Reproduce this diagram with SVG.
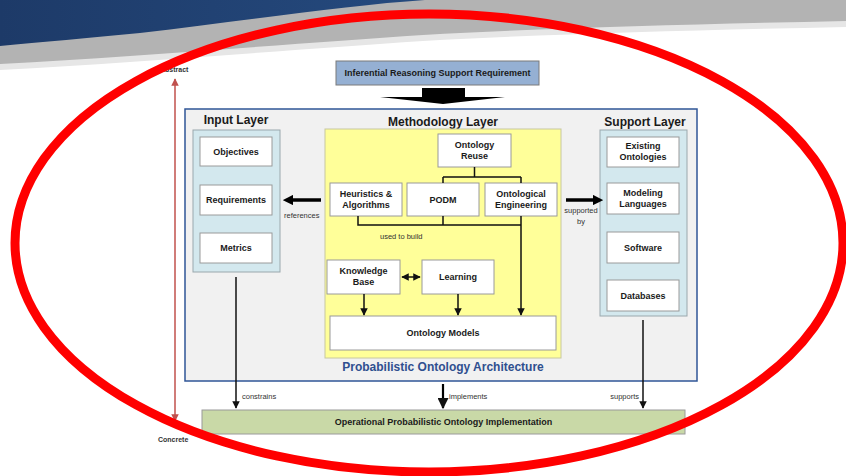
<svg xmlns="http://www.w3.org/2000/svg" width="846" height="476" viewBox="0 0 846 476">
<style>
.box{fill:#ffffff;stroke:#9a9a9a;stroke-width:1}
.lbl{font-family:"Liberation Sans",Arial,sans-serif;font-size:9px;font-weight:bold;fill:#1a1a1a;text-anchor:middle}
.ttl{font-family:"Liberation Sans",Arial,sans-serif;font-size:12px;font-weight:bold;fill:#1a1a1a;text-anchor:middle}
.sm{font-family:"Liberation Sans",Arial,sans-serif;font-size:7.5px;fill:#333;}
.ln{fill:none;stroke:#111;stroke-width:1.5}
</style>
<defs>
<marker id="ah" viewBox="0 0 10 10" refX="9" refY="5" markerWidth="5" markerHeight="5" orient="auto-start-reverse"><path d="M0,0 L10,5 L0,10 z" fill="#111"/></marker>
<marker id="ahr" viewBox="0 0 10 10" refX="9" refY="5" markerWidth="5" markerHeight="5" orient="auto-start-reverse"><path d="M0,0 L10,5 L0,10 z" fill="#c0504d"/></marker>
<marker id="big" viewBox="0 0 10 10" refX="5" refY="5" markerWidth="3" markerHeight="3" orient="auto"><path d="M0,0 L10,5 L0,10 z" fill="#000"/></marker>
<linearGradient id="bl" x1="0" y1="0" x2="1" y2="0"><stop offset="0" stop-color="#1d3a68"/><stop offset="1" stop-color="#254a7e"/></linearGradient>
</defs>
<rect width="846" height="476" fill="#ffffff"/>
<!-- header swoosh -->
<g id="header">
<path d="M0,0 H846 V27 C700,30 550,34 423,41 C300,49 150,62 0,70 Z" fill="#e6e6e6"/>
<path d="M0,0 H846 V21 C700,24 550,28 423,35 C300,43 150,56 0,64 Z" fill="#b3b3b3"/>
<path d="M0,0 H425 C350,5 250,20 140,33 C90,38 40,42 0,46 Z" fill="url(#bl)"/>
</g>
<!-- abstract/concrete axis -->
<g id="axis">
<line x1="175" y1="79" x2="175" y2="421" stroke="#c0504d" stroke-width="1.5" marker-start="url(#ahr)" marker-end="url(#ahr)"/>
<text x="160" y="72" class="sm" style="font-weight:bold;font-size:7px">Abstract</text>
<text x="158" y="442" class="sm" style="font-weight:bold;font-size:7px">Concrete</text>
</g>
<g id="requirement">
<rect x="336" y="61" width="203" height="24" fill="#95b0d3" stroke="#7a7a7a"/>
<text x="437.5" y="76" class="lbl">Inferential Reasoning Support Requirement</text>
</g>
<g id="bigarrow">
<path d="M422,88 L465,88 L465,97 L505,97 L443,104 L380,97 L422,97 Z" fill="#000"/>
</g>
<g id="architecture">
<rect x="185" y="109" width="512" height="272" fill="#f1f1f1" stroke="#2f5597" stroke-width="1.5"/>
<text x="443" y="371" class="ttl" style="fill:#2f4f8f">Probabilistic Ontology Architecture</text>
</g>
<g id="input-layer">
<text x="236" y="124" class="ttl">Input Layer</text>
<rect x="193" y="130" width="87" height="142" fill="#d3e8ee" stroke="#9aa8ad"/>
</g>
<g id="objectives"><rect x="200" y="137" width="72" height="29" class="box"/><text x="236" y="155" class="lbl">Objectives</text></g>
<g id="requirements"><rect x="200" y="185" width="72" height="30" class="box"/><text x="236" y="203" class="lbl">Requirements</text></g>
<g id="metrics"><rect x="200" y="233" width="72" height="30" class="box"/><text x="236" y="251" class="lbl">Metrics</text></g>
<g id="methodology-layer">
<text x="443" y="126" class="ttl">Methodology Layer</text>
<rect x="325" y="129" width="236" height="229" fill="#ffff99" stroke="#c8c8a0"/>
</g>
<g id="ontology-reuse"><rect x="438" y="134" width="73" height="33" class="box"/><text x="474.5" y="148" class="lbl">Ontology</text><text x="474.5" y="159" class="lbl">Reuse</text></g>
<g id="heuristics"><rect x="330" y="183" width="72" height="33" class="box"/><text x="366" y="197" class="lbl">Heuristics &amp;</text><text x="366" y="208" class="lbl">Algorithms</text></g>
<g id="podm"><rect x="407" y="183" width="72" height="33" class="box"/><text x="443" y="203" class="lbl">PODM</text></g>
<g id="ontological-engineering"><rect x="485" y="183" width="72" height="33" class="box"/><text x="521" y="197" class="lbl">Ontological</text><text x="521" y="208" class="lbl">Engineering</text></g>
<g id="knowledge-base"><rect x="327" y="260" width="73" height="34" class="box"/><text x="363.5" y="274" class="lbl">Knowledge</text><text x="363.5" y="285" class="lbl">Base</text></g>
<g id="learning"><rect x="422" y="260" width="72" height="34" class="box"/><text x="458" y="280" class="lbl">Learning</text></g>
<g id="ontology-models"><rect x="330" y="316" width="226" height="34" class="box"/><text x="443" y="336" class="lbl">Ontology Models</text></g>
<g id="support-layer">
<text x="645" y="126" class="ttl">Support Layer</text>
<rect x="600" y="130" width="87" height="186" fill="#d3e8ee" stroke="#9aa8ad"/>
</g>
<g id="existing-ontologies"><rect x="607" y="137" width="72" height="30" class="box"/><text x="643" y="149" class="lbl">Existing</text><text x="643" y="160" class="lbl">Ontologies</text></g>
<g id="modeling-languages"><rect x="607" y="183" width="72" height="31" class="box"/><text x="643" y="196" class="lbl">Modeling</text><text x="643" y="207" class="lbl">Languages</text></g>
<g id="software"><rect x="607" y="232" width="72" height="31" class="box"/><text x="643" y="251" class="lbl">Software</text></g>
<g id="databases"><rect x="607" y="280" width="72" height="31" class="box"/><text x="643" y="299" class="lbl">Databases</text></g>
<g id="operational">
<rect x="202" y="410" width="483" height="24" fill="#c9d9a7" stroke="#9a9a9a"/>
<text x="443.5" y="425" class="lbl">Operational Probabilistic Ontology Implementation</text>
</g>
<g id="connectors">
<path d="M474.5,167 V177 M443,177 H521 M443,177 V183 M521,177 V183" class="ln" stroke-width="1.3"/>
<path d="M358,216 V225 H521 M443,216 V225" class="ln" stroke-width="1.3"/>
<line x1="521" y1="216" x2="521" y2="315" class="ln" stroke-width="1.3" marker-end="url(#ah)"/>
<line x1="364" y1="294" x2="364" y2="315" class="ln" stroke-width="1.3" marker-end="url(#ah)"/>
<line x1="458" y1="294" x2="458" y2="315" class="ln" stroke-width="1.3" marker-end="url(#ah)"/>
<line x1="402" y1="277" x2="420" y2="277" class="ln" stroke-width="1.3" marker-start="url(#ah)" marker-end="url(#ah)"/>
<text x="380" y="239" class="sm">used to build</text>
<line x1="321" y1="200" x2="288" y2="200" stroke="#000" stroke-width="3.5" marker-end="url(#big)"/>
<text x="284" y="218" class="sm">references</text>
<line x1="566" y1="200" x2="598" y2="200" stroke="#000" stroke-width="3.5" marker-end="url(#big)"/>
<text x="581" y="213" class="sm" text-anchor="middle">supported</text>
<text x="581" y="224" class="sm" text-anchor="middle">by</text>
<line x1="236" y1="277" x2="236" y2="408" class="ln" marker-end="url(#ah)"/>
<text x="242" y="399" class="sm">constrains</text>
<line x1="443" y1="384" x2="443" y2="408" stroke="#000" stroke-width="2.2" marker-end="url(#ah)"/>
<text x="449" y="399" class="sm">implements</text>
<line x1="643" y1="320" x2="643" y2="408" class="ln" marker-end="url(#ah)"/>
<text x="639" y="399" class="sm" text-anchor="end">supports</text>
</g>
<ellipse id="highlight" cx="429" cy="243" rx="414" ry="229" fill="none" stroke="#ff0000" stroke-width="9"/>
</svg>
